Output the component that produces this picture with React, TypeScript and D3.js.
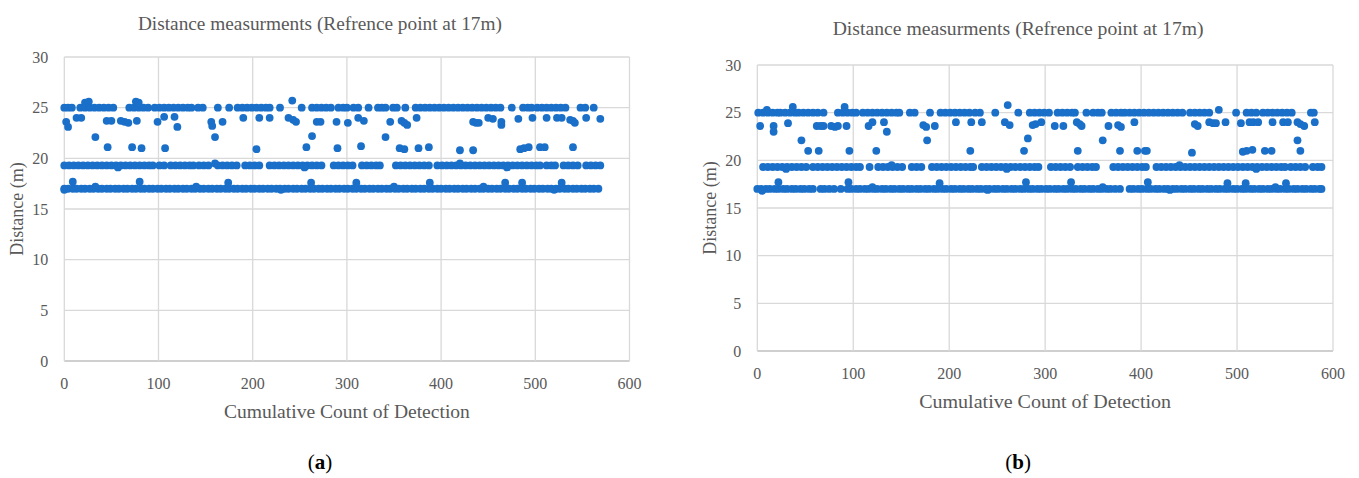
import React from 'react';
import * as d3 from 'd3';

// tick values shared by both panels
const xTickValues = [0, 100, 200, 300, 400, 500, 600];
const yTickValues = [0, 5, 10, 15, 20, 25, 30];

// distance levels the bands sit at (m)
const bandLevels = [17.0, 19.3, 25.0];

// panel (a): detection counts that fall in each band
const aNearCounts = [0, 4, 9, 13, 18, 22, 27, 31, 36, 40, 45, 49, 54, 58, 63, 67, 72, 76, 81, 85, 90, 94, 99, 103, 108, 112, 117, 121, 126, 130, 135, 139, 144, 148, 153, 157, 162, 166, 171, 175, 180, 184, 189, 193, 198, 202, 207, 211, 216, 220, 225, 229, 234, 238, 243, 247, 252, 256, 261, 265, 270, 274, 279, 283, 288, 292, 297, 301, 306, 310, 315, 319, 324, 328, 333, 337, 342, 346, 351, 355, 360, 364, 369, 373, 378, 382, 387, 391, 396, 400, 405, 409, 414, 418, 423, 427, 432, 436, 441, 445, 450, 454, 459, 463, 468, 472, 477, 481, 486, 490, 495, 499, 504, 508, 513, 517, 522, 526, 531, 535, 540, 544, 549, 553, 558, 562, 567];
const aMidCounts = [0, 5, 10, 15, 20, 25, 30, 35, 40, 45, 50, 55, 60, 65, 70, 75, 80, 85, 90, 94, 101, 106, 113, 118, 123, 128, 133, 137, 143, 148, 153, 163, 168, 173, 178, 183, 192, 197, 202, 207, 218, 223, 228, 233, 238, 243, 248, 253, 258, 263, 268, 273, 286, 291, 296, 301, 306, 316, 321, 326, 331, 335, 352, 357, 362, 367, 372, 377, 382, 387, 396, 401, 406, 411, 416, 421, 426, 431, 436, 441, 446, 451, 456, 461, 466, 471, 476, 481, 486, 491, 496, 501, 505, 512, 517, 521, 530, 535, 540, 545, 554, 559, 564, 569];
const aFarCounts = [0, 4, 8, 17, 22, 27, 32, 37, 42, 47, 52, 69, 74, 79, 84, 89, 96, 101, 106, 111, 116, 121, 126, 131, 135, 142, 147, 163, 175, 184, 189, 194, 199, 204, 209, 214, 218, 229, 252, 263, 268, 273, 278, 283, 291, 296, 300, 307, 312, 323, 333, 337, 341, 349, 353, 362, 373, 378, 383, 388, 393, 398, 403, 408, 413, 418, 423, 428, 433, 438, 443, 448, 453, 458, 463, 475, 487, 492, 496, 502, 507, 512, 517, 522, 527, 532, 548, 553, 562];
// panel (a): readings off the bands [count, distance]
const aOther: [number, number][] = [
  [0, 16.9], [9, 17.7], [80, 17.7], [174, 17.6], [262, 17.6], [310, 17.6], [388, 17.6], [468, 17.6], [486, 17.6], [528, 17.6],
  [33, 17.2], [140, 17.2], [230, 16.9], [350, 17.2], [445, 17.2], [520, 16.9],
  [57, 19.1], [160, 19.5], [255, 19.1], [420, 19.5], [470, 19.1],
  [22, 25.5], [26, 25.6], [76, 25.6], [79, 25.5], [242, 25.7],
  [13, 24.0], [18, 24.0], [117, 24.1], [190, 24.0], [207, 24.0], [218, 24.0], [238, 24.0], [312, 24.0], [374, 24.0],
  [450, 24.0], [455, 23.9], [482, 23.9], [497, 24.0], [512, 24.0], [523, 24.0], [528, 24.0], [537, 23.8], [554, 24.0], [569, 23.9],
  [2, 23.6], [45, 23.7], [50, 23.7], [60, 23.7], [64, 23.6], [68, 23.5], [77, 23.7], [99, 23.6], [106, 24.1], [156, 23.6], [168, 23.6],
  [243, 23.8], [246, 23.6], [268, 23.6], [272, 23.6], [289, 23.6], [301, 23.5], [318, 23.7], [346, 23.6], [358, 23.7], [361, 23.5],
  [364, 23.3], [434, 23.6], [437, 23.5], [440, 23.5], [464, 23.6], [540, 23.7], [542, 23.5],
  [4, 23.1], [120, 23.1], [157, 23.2], [464, 23.3],
  [33, 22.1], [160, 22.1], [263, 22.2], [341, 22.1],
  [46, 21.1], [72, 21.1], [82, 21.0], [107, 21.0], [204, 20.9], [257, 21.1], [290, 21.0], [315, 21.2], [356, 21.0], [361, 20.9],
  [376, 21.0], [387, 21.1], [420, 20.8], [434, 20.8], [484, 20.9], [488, 21.0], [493, 21.1], [505, 21.1], [510, 21.1], [540, 21.1],
];

// panel (b)
const bNearCounts = [0, 4, 9, 13, 18, 22, 27, 31, 36, 40, 45, 49, 54, 58, 66, 70, 75, 80, 87, 94, 98, 103, 107, 112, 116, 121, 125, 130, 134, 139, 143, 148, 152, 157, 161, 166, 170, 175, 179, 184, 188, 193, 197, 202, 206, 211, 215, 220, 224, 229, 233, 238, 242, 247, 251, 256, 260, 265, 269, 274, 278, 283, 287, 292, 296, 301, 305, 310, 314, 319, 323, 328, 332, 337, 341, 346, 350, 355, 359, 364, 368, 373, 378, 388, 392, 397, 401, 406, 410, 415, 419, 424, 428, 433, 437, 442, 446, 451, 455, 460, 464, 469, 473, 478, 482, 487, 491, 496, 500, 505, 509, 514, 518, 523, 527, 532, 536, 541, 545, 550, 554, 559, 563, 568, 572, 577, 581, 586, 588];
const bMidCounts = [6, 11, 16, 21, 26, 31, 36, 41, 46, 51, 58, 63, 68, 73, 78, 83, 88, 93, 98, 103, 107, 117, 126, 131, 136, 141, 146, 151, 161, 166, 171, 182, 187, 192, 197, 202, 207, 212, 217, 222, 225, 234, 239, 244, 249, 254, 259, 264, 269, 274, 279, 284, 289, 293, 306, 311, 316, 321, 326, 334, 339, 344, 349, 353, 371, 376, 381, 386, 391, 396, 401, 405, 416, 421, 426, 431, 436, 441, 446, 451, 456, 461, 466, 471, 476, 481, 486, 491, 496, 501, 506, 511, 516, 521, 526, 531, 536, 541, 546, 550, 556, 561, 566, 571, 579, 584, 588];
const bFarCounts = [1, 6, 11, 16, 21, 24, 29, 34, 39, 43, 48, 53, 58, 63, 69, 84, 89, 94, 99, 103, 110, 115, 120, 125, 130, 135, 140, 145, 148, 159, 164, 180, 191, 196, 201, 206, 211, 216, 221, 227, 232, 248, 272, 284, 289, 294, 299, 304, 313, 318, 323, 328, 331, 343, 350, 355, 359, 369, 374, 379, 383, 388, 393, 398, 403, 408, 413, 418, 423, 428, 433, 438, 443, 451, 456, 461, 466, 471, 499, 510, 515, 520, 527, 532, 537, 542, 547, 552, 557, 577, 580];
const bOther: [number, number][] = [
  [22, 17.7], [95, 17.7], [190, 17.6], [280, 17.7], [327, 17.7], [407, 17.7], [490, 17.6], [509, 17.6], [551, 17.6],
  [5, 16.8], [120, 17.2], [240, 16.9], [360, 17.2], [430, 16.9], [540, 17.2],
  [30, 19.1], [140, 19.5], [260, 19.1], [440, 19.5], [520, 19.1],
  [10, 25.3], [37, 25.6], [91, 25.6], [261, 25.8], [481, 25.3],
  [3, 23.6], [17, 23.6], [32, 23.9], [62, 23.6], [66, 23.6], [69, 23.6], [77, 23.6], [81, 23.5], [84, 23.6], [93, 23.6],
  [116, 23.6], [120, 24.0], [132, 24.0], [173, 23.7], [176, 23.5], [185, 23.6], [207, 24.0], [223, 24.0], [234, 24.0],
  [258, 24.0], [263, 23.7], [287, 23.7], [290, 23.8], [296, 24.0], [310, 23.6], [319, 23.6], [333, 24.0], [336, 23.8],
  [338, 23.6], [366, 23.6], [376, 23.7], [379, 23.5], [393, 24.0], [456, 23.8], [459, 23.6], [471, 24.0], [475, 23.9],
  [478, 23.9], [488, 24.0], [504, 23.9], [513, 24.0], [517, 24.0], [522, 24.0], [537, 24.0], [548, 24.0], [553, 24.0],
  [563, 24.0], [566, 23.8], [570, 23.6], [581, 24.0],
  [17, 23.0], [135, 23.0],
  [46, 22.1], [177, 22.1], [282, 22.3], [360, 22.1], [563, 22.1],
  [53, 21.0], [64, 21.0], [96, 21.0], [124, 21.0], [222, 21.0], [278, 21.0], [334, 21.0], [378, 21.0], [396, 21.0],
  [404, 21.0], [406, 21.0], [453, 20.8], [506, 20.9], [510, 21.0], [516, 21.1], [529, 21.0], [536, 21.0], [566, 21.0],
];

const titleText = 'Distance measurments (Refrence point at 17m)';
const xTitle = 'Cumulative Count of Detection';
const yTitle = 'Distance (m)';

const FONT = '"Liberation Serif", serif';
const TEXT = '#595959';
const DOT = '#1a6fc9';

type PanelProps = {
  left: number; right: number; top: number; bottom: number;
  near: number[]; mid: number[]; far: number[]; other: [number, number][];
  titleY: number; titleW: number; xTitleW: number; label: string;
};

function Panel(p: PanelProps) {
  const x = d3.scaleLinear().domain([0, 600]).range([p.left, p.right]);
  const y = d3.scaleLinear().domain([0, 30]).range([p.bottom, p.top]);
  const pts: [number, number][] = [
    ...p.near.map(c => [c, bandLevels[0]] as [number, number]),
    ...p.mid.map(c => [c, bandLevels[1]] as [number, number]),
    ...p.far.map(c => [c, bandLevels[2]] as [number, number]),
    ...p.other,
  ];
  const cx = (p.left + p.right) / 2;
  const cy = (p.top + p.bottom) / 2;
  return (
    <g fontFamily={FONT}>
      <text x={cx - 27} y={p.titleY} textAnchor="middle" fontSize={18} fill={TEXT}
        textLength={p.titleW} lengthAdjust="spacingAndGlyphs">{titleText}</text>
      {yTickValues.map(v => (
        <g key={'y' + v}>
          <line x1={p.left} x2={p.right} y1={y(v)} y2={y(v)} stroke={v === 0 ? '#bfbfbf' : '#d9d9d9'} strokeWidth={1.3} />
          <text x={p.left - 16} y={y(v) + 5.5} textAnchor="end" fontSize={16} fill={TEXT}>{v}</text>
        </g>
      ))}
      {xTickValues.map(v => (
        <g key={'x' + v}>
          <line x1={x(v)} x2={x(v)} y1={p.top} y2={p.bottom} stroke="#d9d9d9" strokeWidth={1.3} />
          <text x={x(v)} y={p.bottom + 28} textAnchor="middle" fontSize={16} fill={TEXT}>{v}</text>
        </g>
      ))}
      {pts.map((d, i) => (
        <circle key={i} cx={x(d[0])} cy={y(d[1])} r={3.9} fill={DOT} />
      ))}
      <text x={cx} y={p.bottom + 57} textAnchor="middle" fontSize={18} fill={TEXT}
        textLength={p.xTitleW} lengthAdjust="spacingAndGlyphs">{xTitle}</text>
      <text transform={`translate(${p.left - 41},${cy}) rotate(-90)`} textAnchor="middle" fontSize={18} fill={TEXT}>{yTitle}</text>
      <text x={cx - 27} y={469} textAnchor="middle" fontSize={21} fill="#000">
        (<tspan fontWeight="bold">{p.label}</tspan>)
      </text>
    </g>
  );
}

export default function App() {
  return (
    <svg width={1359} height={478} style={{ position: 'absolute', left: 0, top: 0, background: '#fff' }}>
      <Panel left={64.3} right={629.5} top={57} bottom={361} near={aNearCounts} mid={aMidCounts} far={aFarCounts}
        other={aOther} titleY={30} titleW={364} xTitleW={246} label="a" />
      <Panel left={757.3} right={1333} top={65} bottom={351} near={bNearCounts} mid={bMidCounts} far={bFarCounts}
        other={bOther} titleY={35} titleW={371} xTitleW={252} label="b" />
    </svg>
  );
}
